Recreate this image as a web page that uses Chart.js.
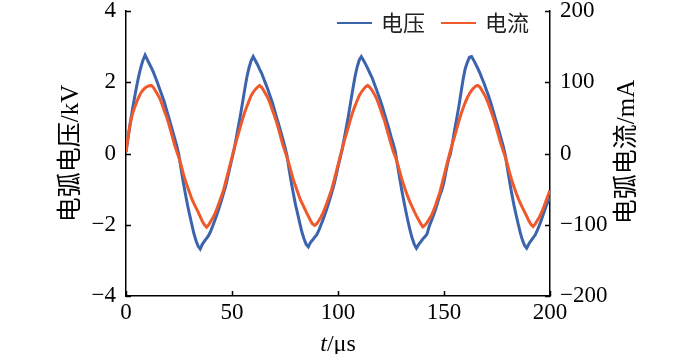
<!DOCTYPE html>
<html>
<head>
<meta charset="utf-8">
<script src="https://cdn.jsdelivr.net/npm/chart.js@4.4.1/dist/chart.umd.min.js"></script>
<style>
  html, body { margin: 0; padding: 0; background: #fff; }
</style>
</head>
<body>
<canvas id="arcChart" width="700" height="354"></canvas>
<script>
"use strict";

// sample times (µs)
const timeUs = [
  0, 1, 2, 3, 4, 5, 6, 7, 8, 9, 10, 11, 12, 13, 14, 15, 16, 17, 18, 19,
  20, 21, 22, 23, 24, 25, 26, 27, 28, 29, 30, 31, 32, 33, 34, 35, 36, 37, 38, 39,
  40, 41, 42, 43, 44, 45, 46, 47, 48, 49, 50, 51, 52, 53, 54, 55, 56, 57, 58, 59,
  60, 61, 62, 63, 64, 65, 66, 67, 68, 69, 70, 71, 72, 73, 74, 75, 76, 77, 78, 79,
  80, 81, 82, 83, 84, 85, 86, 87, 88, 89, 90, 91, 92, 93, 94, 95, 96, 97, 98, 99,
  100, 101, 102, 103, 104, 105, 106, 107, 108, 109, 110, 111, 112, 113, 114, 115, 116, 117, 118, 119,
  120, 121, 122, 123, 124, 125, 126, 127, 128, 129, 130, 131, 132, 133, 134, 135, 136, 137, 138, 139,
  140, 141, 142, 143, 144, 145, 146, 147, 148, 149, 150, 151, 152, 153, 154, 155, 156, 157, 158, 159,
  160, 161, 162, 163, 164, 165, 166, 167, 168, 169, 170, 171, 172, 173, 174, 175, 176, 177, 178, 179,
  180, 181, 182, 183, 184, 185, 186, 187, 188, 189, 190, 191, 192, 193, 194, 195, 196, 197, 198, 199,
  200
];

// arc voltage (kV)
const voltageKV = [
  0.04, 0.45, 0.85, 1.22, 1.56, 1.88, 2.17, 2.42, 2.62, 2.76,
  2.64, 2.52, 2.40, 2.27, 2.12, 1.96, 1.79, 1.63, 1.46, 1.25,
  1.05, 0.84, 0.63, 0.42, 0.20, -0.06, -0.44, -0.80, -1.13, -1.44,
  -1.72, -1.98, -2.24, -2.44, -2.60, -2.68, -2.55, -2.46, -2.38, -2.30,
  -2.17, -2.02, -1.86, -1.69, -1.51, -1.32, -1.12, -0.92, -0.66, -0.40,
  -0.14, 0.12, 0.43, 0.76, 1.08, 1.44, 1.80, 2.14, 2.40, 2.60,
  2.72, 2.61, 2.50, 2.37, 2.25, 2.09, 1.94, 1.78, 1.61, 1.44,
  1.23, 1.02, 0.82, 0.61, 0.40, 0.18, -0.08, -0.47, -0.82, -1.14,
  -1.45, -1.70, -1.96, -2.21, -2.40, -2.55, -2.62, -2.50, -2.43, -2.35,
  -2.28, -2.15, -2.00, -1.85, -1.68, -1.50, -1.31, -1.11, -0.90, -0.65,
  -0.38, -0.13, 0.13, 0.44, 0.76, 1.09, 1.45, 1.81, 2.15, 2.42,
  2.62, 2.72, 2.62, 2.51, 2.39, 2.26, 2.14, 1.98, 1.82, 1.65,
  1.49, 1.30, 1.10, 0.90, 0.70, 0.48, 0.28, 0.06, -0.30, -0.66,
  -1.00, -1.32, -1.62, -1.90, -2.16, -2.38, -2.55, -2.66, -2.56, -2.48,
  -2.40, -2.34, -2.26, -2.05, -1.90, -1.74, -1.57, -1.38, -1.18, -1.02,
  -0.80, -0.48, -0.20, -0.02, 0.30, 0.66, 0.98, 1.32, 1.70, 2.08,
  2.38, 2.56, 2.70, 2.72, 2.62, 2.50, 2.38, 2.25, 2.10, 1.95,
  1.78, 1.62, 1.44, 1.24, 1.03, 0.83, 0.62, 0.40, 0.19, -0.07,
  -0.45, -0.81, -1.14, -1.45, -1.72, -1.98, -2.23, -2.43, -2.58, -2.66,
  -2.54, -2.45, -2.37, -2.29, -2.16, -2.01, -1.85, -1.68, -1.50, -1.36,
  -1.22
];

// arc current (mA)
const currentMA = [
  2, 24, 42, 55, 64, 72, 79, 85, 89, 92,
  94, 95, 95.5, 92.5, 87.5, 82.5, 77, 69, 60.5, 52.5,
  43.5, 33, 22, 11, 2.5, -6.5, -16.5, -28, -38, -46.5,
  -55, -63.5, -70, -76, -82, -88.5, -95, -100, -103.5, -100,
  -95, -90, -84, -76.5, -68.5, -60, -51.5, -40, -28.5, -16.5,
  -5, 6, 17.5, 27.5, 38, 48.5, 58, 66, 73.5, 81,
  86, 90, 93, 95.5, 93, 88, 83, 77.5, 70, 61.5,
  53, 44, 34, 23, 12, 3, -6, -16, -27, -37.5,
  -46, -54.5, -63, -69.5, -75.5, -82, -88, -94, -99, -101,
  -98.5, -94, -89, -83, -75.5, -67.5, -59, -50.5, -39.5, -28,
  -16, -4.5, 6.5, 18, 28, 38.5, 49, 58.5, 66.5, 74,
  81, 86, 90, 93.5, 95.5, 93, 89, 84, 78.5, 71,
  62.5, 53.5, 45.5, 34.5, 24, 13.5, 3.5, -4, -13.5, -24,
  -35, -44, -53, -61, -68.5, -75, -81.5, -87.5, -93, -98.5,
  -103, -100.5, -97, -92, -87.5, -80.5, -72.5, -63.5, -55, -43.5,
  -31.5, -19.5, -7.5, 3.5, 14, 24, 34.5, 45, 55, 63.5,
  71.5, 78.5, 84, 88.5, 92, 94.5, 95.5, 93, 88, 83,
  77, 69.5, 61, 52.5, 43.5, 33, 22.5, 12, 3, -6,
  -16.5, -27.5, -38, -46.5, -55, -63, -69.5, -76, -82, -88,
  -94.5, -99.5, -102.5, -99, -94, -89, -83, -75.5, -67.5, -59.5,
  -51.5
];

const seriesNames = ["电压", "电流"];
const xTicks = [0, 50, 100, 150, 200];
const voltTicks = [-4, -2, 0, 2, 4];
const currTicks = [-200, -100, 0, 100, 200];

const BLUE = "#3c63ad";
const ORANGE = "#ee5a2b";
const SERIF = '"Liberation Serif", "Times New Roman", "Noto Sans CJK SC", serif';

const minusSign = (v) => (v < 0 ? "\u2212" + Math.abs(v) : String(v));

// inward tick marks, right axis title, x title and legend
const decorations = {
  id: "decorations",
  afterDraw(chart) {
    const ctx = chart.ctx;
    const { x, y, y1 } = chart.scales;
    const area = chart.chartArea;
    ctx.save();
    ctx.strokeStyle = "#000";
    ctx.lineWidth = 1.5;
    ctx.beginPath();
    xTicks.forEach((v) => {
      const px = Math.round(x.getPixelForValue(v)) + 0.5;
      ctx.moveTo(px, area.bottom);
      ctx.lineTo(px, area.bottom - 5);
    });
    voltTicks.forEach((v) => {
      const py = Math.round(y.getPixelForValue(v)) + 0.5;
      ctx.moveTo(area.left, py);
      ctx.lineTo(area.left + 5, py);
    });
    currTicks.forEach((v) => {
      const py = Math.round(y1.getPixelForValue(v)) + 0.5;
      ctx.moveTo(area.right, py);
      ctx.lineTo(area.right - 5, py);
    });
    ctx.stroke();

    ctx.fillStyle = "#000";
    // right axis title, reading bottom to top
    ctx.save();
    ctx.translate(627, 152);
    ctx.rotate(-Math.PI / 2);
    ctx.font = "25px " + SERIF;
    ctx.textAlign = "center";
    ctx.textBaseline = "middle";
    ctx.fillText("电弧电流/mA", 0, 0);
    ctx.restore();

    // x title: t/µs with italic t
    ctx.textBaseline = "alphabetic";
    ctx.textAlign = "left";
    ctx.font = "italic 24px " + SERIF;
    const wT = ctx.measureText("t").width;
    ctx.font = "24px " + SERIF;
    const wRest = ctx.measureText("/\u03bcs").width;
    const cx = (area.left + area.right) / 2;
    const x0 = cx - (wT + wRest) / 2;
    ctx.font = "italic 24px " + SERIF;
    ctx.fillText("t", x0, 351);
    ctx.font = "24px " + SERIF;
    ctx.fillText("/\u03bcs", x0 + wT, 351);

    // legend
    const legendX = [337, 441];
    ctx.font = '22px "Noto Sans CJK SC", sans-serif';
    ctx.textBaseline = "middle";
    chart.data.datasets.forEach((ds, i) => {
      ctx.strokeStyle = ds.borderColor;
      ctx.lineWidth = 2;
      ctx.beginPath();
      ctx.moveTo(legendX[i], 23);
      ctx.lineTo(legendX[i] + 35, 23);
      ctx.stroke();
      ctx.fillStyle = "#222";
      ctx.fillText(ds.label, legendX[i] + 44, 23);
    });
    ctx.restore();
  },
};

const ctx = document.getElementById("arcChart").getContext("2d");
const arcChart = new Chart(ctx, {
  type: "line",
  data: {
    datasets: [
      {
        label: seriesNames[0],
        data: timeUs.map((t, i) => ({ x: t, y: voltageKV[i] })),
        yAxisID: "y",
        borderColor: BLUE,
        borderWidth: 3,
        pointRadius: 0,
        tension: 0,
        order: 1,
      },
      {
        label: seriesNames[1],
        data: timeUs.map((t, i) => ({ x: t, y: currentMA[i] })),
        yAxisID: "y1",
        borderColor: ORANGE,
        borderWidth: 3,
        pointRadius: 0,
        tension: 0,
        order: 0,
      },
    ],
  },
  options: {
    responsive: false,
    animation: false,
    devicePixelRatio: 1,
    layout: { padding: { top: 11, left: 0, right: 0, bottom: 0 } },
    plugins: {
      legend: { display: false },
      tooltip: { enabled: false },
    },
    scales: {
      x: {
        type: "linear",
        min: 0,
        max: 200,
        afterBuildTicks: (scale) => {
          scale.ticks = xTicks.map((v) => ({ value: v }));
        },
        afterFit: (scale) => {
          scale.height = 58;
        },
        grid: { display: false, drawTicks: false },
        border: { display: true, color: "#000", width: 1.5 },
        ticks: {
          padding: 3,
          color: "#000",
          font: { family: SERIF, size: 23 },
          maxRotation: 0,
        },
      },
      y: {
        position: "left",
        min: -4,
        max: 4,
        afterBuildTicks: (scale) => {
          scale.ticks = voltTicks.map((v) => ({ value: v }));
        },
        afterFit: (scale) => {
          scale.width = 126;
          scale.paddingTop = 0;
          scale.paddingBottom = 0;
        },
        grid: { display: false, drawTicks: false },
        border: { display: true, color: "#000", width: 1.5 },
        ticks: {
          padding: 10,
          color: "#000",
          font: { family: SERIF, size: 23 },
          callback: minusSign,
        },
        title: {
          display: true,
          text: "电弧电压/kV",
          color: "#000",
          font: { family: SERIF, size: 25 },
          padding: { top: 56, bottom: 0 },
        },
      },
      y1: {
        position: "right",
        min: -200,
        max: 200,
        afterBuildTicks: (scale) => {
          scale.ticks = currTicks.map((v) => ({ value: v }));
        },
        afterFit: (scale) => {
          scale.width = 150;
          scale.paddingTop = 0;
          scale.paddingBottom = 0;
        },
        grid: { display: false, drawTicks: false },
        border: { display: true, color: "#000", width: 1.5 },
        ticks: {
          padding: 10,
          color: "#000",
          font: { family: SERIF, size: 23 },
          callback: minusSign,
        },
      },
    },
  },
  plugins: [decorations],
});
</script>
</body>
</html>
